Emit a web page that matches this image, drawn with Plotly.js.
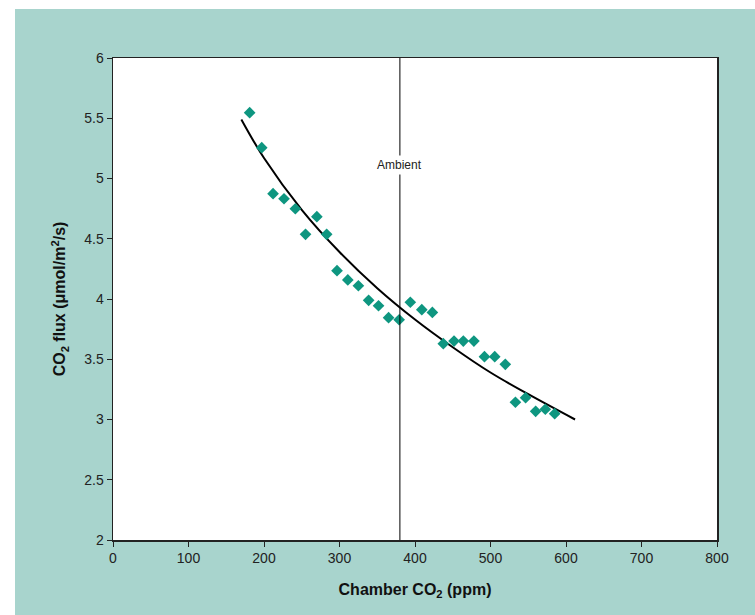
<!DOCTYPE html>
<html>
<head>
<meta charset="utf-8">
<script src="https://cdn.plot.ly/plotly-3.0.1.min.js"></script>
<style>
  html, body { margin: 0; padding: 0; background: #ffffff; }
  #chart { position: absolute; left: 15px; top: 9px; width: 740px; height: 606px; }
</style>
</head>
<body>
<div id="chart"></div>
<script>
// Measured data points (Chamber CO2 ppm, CO2 flux)
const chamberCO2 = [181, 197, 212, 226.5, 241.5, 255, 270, 283, 296.7, 311, 325, 338.6, 351.7, 365, 379,
                    393.8, 409, 423, 437.5, 451.7, 464, 478, 492, 505.6, 519.6, 533, 546.5, 559.8, 572.6, 585];
const co2Flux    = [5.546, 5.256, 4.874, 4.832, 4.749, 4.537, 4.683, 4.537, 4.235, 4.158, 4.11, 3.989, 3.944, 3.845, 3.828,
                    3.973, 3.911, 3.889, 3.629, 3.651, 3.651, 3.651, 3.521, 3.521, 3.458, 3.143, 3.181, 3.068, 3.085, 3.048];

// Fitted trend curve
const fitX = [170, 200, 250, 300, 350, 400, 450, 500, 550, 612];
const fitY = [5.49, 5.17, 4.74, 4.39, 4.09, 3.83, 3.60, 3.39, 3.21, 3.00];

// Ambient reference
const ambientX = 380;
const ambientLabel = "Ambient";

const xTicks = [0, 100, 200, 300, 400, 500, 600, 700, 800];
const yTicks = [2, 2.5, 3, 3.5, 4, 4.5, 5, 5.5, 6];

const font = "Liberation Sans, Arial, sans-serif";

const traces = [
  {
    x: fitX, y: fitY, type: "scatter", mode: "lines",
    line: { color: "#000000", width: 2, shape: "spline", smoothing: 1 },
    hoverinfo: "skip", showlegend: false
  },
  {
    x: chamberCO2, y: co2Flux, type: "scatter", mode: "markers",
    marker: { symbol: "diamond", size: 9, color: "#0e9680", line: { width: 0 } },
    showlegend: false
  }
];

const layout = {
  width: 740, height: 606,
  paper_bgcolor: "#a8d4cd",
  plot_bgcolor: "#ffffff",
  margin: { l: 98, r: 38, t: 49, b: 75 },
  font: { family: font, size: 14, color: "#222222" },
  xaxis: {
    range: [0, 800], tickvals: xTicks, ticktext: xTicks.map(String),
    showgrid: false, zeroline: false,
    showline: true, linecolor: "#222222", linewidth: 1.5, mirror: true,
    ticks: "outside", ticklen: 5, tickwidth: 1, tickcolor: "#222222",
    tickfont: { family: font, size: 14, color: "#222222" },
    title: { text: "<b>Chamber CO<sub>2</sub> (ppm)</b>", font: { family: font, size: 16, color: "#111111" }, standoff: 18 }
  },
  yaxis: {
    range: [2, 6], tickvals: yTicks, ticktext: yTicks.map(String),
    showgrid: false, zeroline: false,
    showline: true, linecolor: "#222222", linewidth: 1.5, mirror: true,
    ticks: "outside", ticklen: 5, tickwidth: 1, tickcolor: "#222222",
    tickfont: { family: font, size: 14, color: "#222222" },
    title: { text: "<b>CO<sub>2</sub> flux (μmol/m<sup>2</sup>/s)</b>", font: { family: font, size: 16, color: "#111111" }, standoff: 14 }
  },
  shapes: [
    { type: "line", xref: "x", yref: "paper", x0: ambientX, x1: ambientX, y0: 0, y1: 1,
      line: { color: "#000000", width: 1 } }
  ],
  annotations: [
    { x: ambientX, y: 5.11, xref: "x", yref: "y", text: ambientLabel, showarrow: false,
      bgcolor: "#ffffff", font: { family: font, size: 12, color: "#222222" }, borderpad: 2 }
  ]
};

Plotly.newPlot("chart", traces, layout, { displayModeBar: false, staticPlot: true });
</script>
</body>
</html>
